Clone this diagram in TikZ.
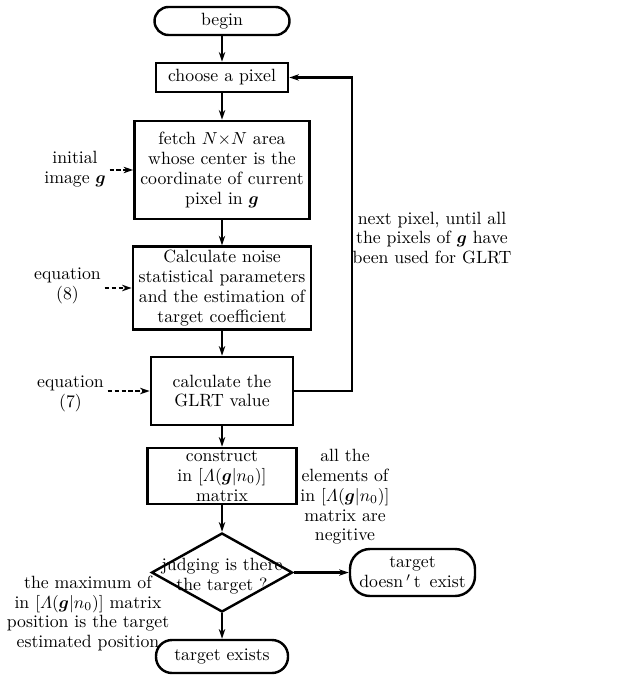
\documentclass[tikz,border=0pt]{standalone}
\usepackage{amsmath,amssymb}
\usepackage{tikz}
\usetikzlibrary{arrows.meta,shapes.geometric}
\def\px{0.575pt}

\begin{document}
\begin{tikzpicture}[x=0.575pt,y=-0.575pt,font={\fontsize{10.2}{11.4}\selectfont},
    procbox/.style={draw,line width=1.4pt,align=center,inner sep=2pt},
    termbox/.style={draw,line width=1.4pt,rounded corners=14*\px,align=center,inner sep=1pt},
    decbox/.style={diamond,draw,line width=1.4pt,inner sep=0pt},
    note/.style={align=center,inner sep=2pt},
    flow/.style={-{Stealth[length=5.5pt,width=3.6pt,inset=1.6pt]},line width=1pt},
    feed/.style={flow,line width=1.3pt},
    input/.style={flow,line width=1.2pt,dash pattern=on 2.4pt off 1.6pt}]
    \useasboundingbox[fill=white] (0,0) rectangle (630,675);
    % main column
    \node[termbox,minimum width=135*\px,minimum height=28*\px] (begin) at (222,21) {begin};
    \node[procbox,minimum width=132*\px,minimum height=29*\px] (choose) at (222,77.5) {choose a pixel};
    \node[procbox,minimum width=175*\px,minimum height=98*\px] (fetch) at (222,170)
      {fetch $N{\times}N$ area\\whose center is the\\coordinate of current\\pixel in $\boldsymbol{g}$};
    \node[procbox,minimum width=178*\px,minimum height=82*\px] (noise) at (222,288)
      {Calculate noise\\statistical parameters\\and the estimation of\\target coefficient};
    \node[procbox,minimum width=142*\px,minimum height=68*\px] (glrt) at (222,391)
      {calculate the\\GLRT value};
    \node[procbox,minimum width=149*\px,minimum height=56*\px] (cons) at (222,476) {};
    \node[note] (constext) at (cons) {construct\\in $[\varLambda(\boldsymbol{g}|n_0)]$\\matrix};
    \node[decbox,minimum width=141*\px,minimum height=79*\px] (judge) at (222,572.5) {};
    \node[note] (judgetext) at (222,576) {judging is there\\the target ?};
    \node[termbox,rounded corners=20*\px,minimum width=125*\px,minimum height=47*\px] (noexist)
      at (412.5,572.5) {target\\doesn$\,'\,$t\, exist};
    \node[termbox,rounded corners=16*\px,minimum width=132*\px,minimum height=33*\px] (exist)
      at (222,656.5) {target exists};
    % side notes
    \node[note] (img) at (75,169) {initial\\image $\boldsymbol{g}$};
    \node[note] (eqeight) at (67.5,286) {equation\\(8)};
    \node[note] (eqseven) at (70.5,394) {equation\\(7)};
    \node[note] (nextnote) at (432,238)
      {next pixel, until all\\the pixels of $\boldsymbol{g}$ have\\been used for GLRT};
    \node[note] (negnote) at (345,497)
      {all the\\elements of\\in $[\varLambda(\boldsymbol{g}|n_0)]$\\matrix are\\negitive};
    \node[note] (maxnote) at (88,613.5)
      {the maximum of\\in $[\varLambda(\boldsymbol{g}|n_0)]$ matrix\\position is the target\\estimated position};
    \coordinate (loopx) at (352,0);
    % connectors
    \draw[flow] (begin) -- (choose);
    \draw[flow] (choose) -- (fetch);
    \draw[flow] (fetch) -- (noise);
    \draw[flow] (noise) -- (glrt);
    \draw[flow] (glrt) -- (cons);
    \draw[flow] (cons.south) -- (judge.north);
    \draw[feed] (judge.east) -- (noexist.west);
    \draw[flow] (judge.south) -- (exist.north);
    \draw[feed] (glrt.east) -- (glrt.east -| loopx) |- (choose.east);
    \draw[input] (img.east |- fetch.west) -- (fetch.west);
    \draw[input] (eqeight.east |- noise.west) -- (noise.west);
    \draw[input] (eqseven.east |- glrt.west) -- (glrt.west);
  \end{tikzpicture}
\end{document}
